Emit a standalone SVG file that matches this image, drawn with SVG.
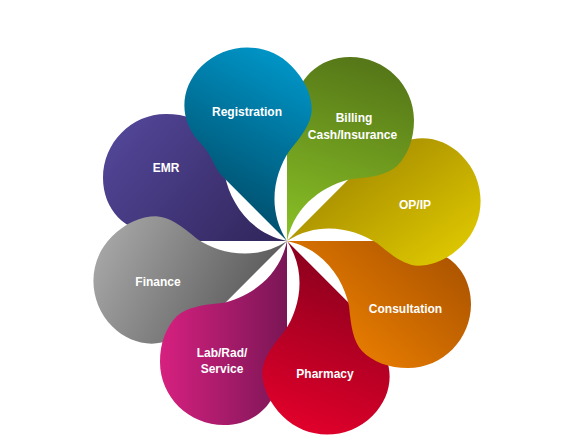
<svg xmlns="http://www.w3.org/2000/svg" xmlns:xlink="http://www.w3.org/1999/xlink" width="572" height="439" viewBox="0 0 572 439">
<style>
  .lbl { fill: #ffffff; font-family: "Liberation Sans", Arial, sans-serif; font-weight: bold; font-size: 12px; text-anchor: middle; }
</style>
<defs>
  <path id="petal" d="M 0 0 L 0 -90 C 0 -105 8 -112 8 -130 C 8 -162 32 -184 63 -184 C 98 -184 127 -156 127 -121 C 127 -102 121 -86 110 -75 C 100 -66 85 -64 65 -62 C 40 -57 8 -38 0 0 Z"/>
  <linearGradient id="gReg" gradientUnits="userSpaceOnUse" x1="23" y1="-181" x2="-57" y2="-31" gradientTransform="rotate(-315)">
    <stop offset="0" stop-color="#0099cc"/><stop offset="1" stop-color="#00506e"/>
  </linearGradient>
  <linearGradient id="gBill" gradientUnits="userSpaceOnUse" x1="60" y1="-183" x2="0" y2="0">
    <stop offset="0" stop-color="#567818"/><stop offset="1" stop-color="#8ac226"/>
  </linearGradient>
  <linearGradient id="gOP" gradientUnits="userSpaceOnUse" x1="80" y1="-100" x2="170" y2="25" gradientTransform="rotate(-45)">
    <stop offset="0" stop-color="#a68c00"/><stop offset="1" stop-color="#e0ca00"/>
  </linearGradient>
  <linearGradient id="gCons" gradientUnits="userSpaceOnUse" x1="183" y1="9" x2="83" y2="119" gradientTransform="rotate(-90)">
    <stop offset="0" stop-color="#a65000"/><stop offset="1" stop-color="#e47a00"/>
  </linearGradient>
  <linearGradient id="gPh" gradientUnits="userSpaceOnUse" x1="60" y1="10" x2="-10" y2="185" gradientTransform="rotate(-135)">
    <stop offset="0" stop-color="#85001c"/><stop offset="1" stop-color="#e3002b"/>
  </linearGradient>
  <linearGradient id="gLab" gradientUnits="userSpaceOnUse" x1="0" y1="60" x2="-126" y2="60" gradientTransform="rotate(-180)">
    <stop offset="0" stop-color="#7a1656"/><stop offset="1" stop-color="#d6207f"/>
  </linearGradient>
  <linearGradient id="gFin" gradientUnits="userSpaceOnUse" x1="-190" y1="-15" x2="-20" y2="70" gradientTransform="rotate(-225)">
    <stop offset="0" stop-color="#ababab"/><stop offset="1" stop-color="#575757"/>
  </linearGradient>
  <linearGradient id="gEMR" gradientUnits="userSpaceOnUse" x1="-180" y1="-125" x2="-30" y2="0" gradientTransform="rotate(-270)">
    <stop offset="0" stop-color="#54489c"/><stop offset="1" stop-color="#342860"/>
  </linearGradient>
</defs>
<rect width="572" height="439" fill="#ffffff"/>
<g id="connectors"/>
<g id="emr">
  <use xlink:href="#petal" href="#petal" transform="translate(287 241) rotate(270)" fill="url(#gEMR)"/>
  <text class="lbl" x="166" y="171.5">EMR</text>
</g>
<g id="finance">
  <use xlink:href="#petal" href="#petal" transform="translate(287 241) rotate(225)" fill="url(#gFin)"/>
  <text class="lbl" x="158" y="286">Finance</text>
</g>
<g id="lab">
  <use xlink:href="#petal" href="#petal" transform="translate(287 241) rotate(180)" fill="url(#gLab)"/>
  <text class="lbl" x="222" y="356.5">Lab/Rad/</text>
  <text class="lbl" x="222" y="372.5">Service</text>
</g>
<g id="pharmacy">
  <use xlink:href="#petal" href="#petal" transform="translate(287 241) rotate(135)" fill="url(#gPh)"/>
  <text class="lbl" x="325" y="378">Pharmacy</text>
</g>
<g id="consultation">
  <use xlink:href="#petal" href="#petal" transform="translate(287 241) rotate(90)" fill="url(#gCons)"/>
  <text class="lbl" x="405.5" y="313">Consultation</text>
</g>
<g id="opip">
  <use xlink:href="#petal" href="#petal" transform="translate(287 241) rotate(45)" fill="url(#gOP)"/>
  <text class="lbl" x="415" y="209">OP/IP</text>
</g>
<g id="billing">
  <use xlink:href="#petal" href="#petal" transform="translate(287 241)" fill="url(#gBill)"/>
  <text class="lbl" x="354" y="122">Billing</text>
  <text class="lbl" x="352.5" y="139">Cash/Insurance</text>
</g>
<g id="registration">
  <use xlink:href="#petal" href="#petal" transform="translate(287 241) rotate(315)" fill="url(#gReg)"/>
  <text class="lbl" x="247" y="115.5">Registration</text>
</g>
</svg>
